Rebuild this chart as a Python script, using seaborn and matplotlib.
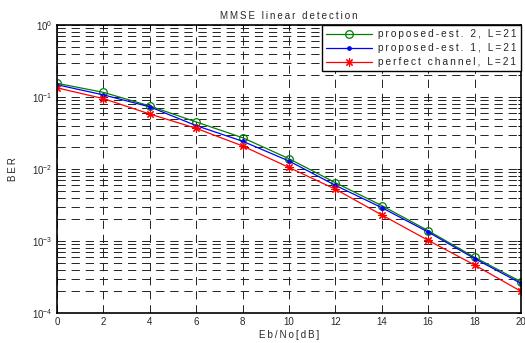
import numpy as np
import pandas as pd
import matplotlib
matplotlib.use("Agg")
import matplotlib.pyplot as plt
import seaborn as sns
from matplotlib.ticker import LogLocator, NullFormatter

ebno = [0, 2, 4, 6, 8, 10, 12, 14, 16, 18, 20]
ber_est2 = [0.155, 0.116, 0.075, 0.045, 0.0272, 0.0139, 0.00645, 0.0031, 0.00139, 0.000593, 0.000272]
ber_est1 = [0.148, 0.107, 0.073, 0.040, 0.0243, 0.0129, 0.00593, 0.0029, 0.00133, 0.00057, 0.000258]
ber_perf = [0.134, 0.095, 0.058, 0.0367, 0.0209, 0.0105, 0.00524, 0.0023, 0.00102, 0.000464, 0.000200]
labels = ["proposed-est. 2, L=21", "proposed-est. 1, L=21", "perfect channel, L=21"]
title = "MMSE linear detection"
xlabel = "Eb/No[dB]"
ylabel = "BER"

sns.set_theme(style="white")
plt.rcParams['font.family'] = ['Liberation Sans', 'DejaVu Sans']


def spaced(s):
    return "\u2009".join(s)


df = pd.DataFrame({
    "Eb/No": ebno * 3,
    "BER": ber_est2 + ber_est1 + ber_perf,
    "series": [labels[0]] * 11 + [labels[1]] * 11 + [labels[2]] * 11,
})

fig = plt.figure(figsize=(5.25, 3.43), dpi=100)
ax = fig.add_axes([0.1086, 0.0875, 0.8838, 0.8396])

colors = ["#008000", "#0000ff", "#ff0000"]
markers = ["o", ".", (8, 2, 0)]
msizes = [5.5, 5, 6]
mews = [0.9, 0.9, 0.8]
for lab, c, m, ms, mew in zip(labels, colors, markers, msizes, mews):
    sub = df[df["series"] == lab]
    sns.lineplot(data=sub, x="Eb/No", y="BER", ax=ax, color=c, marker=m,
                 markersize=ms, markerfacecolor="none" if m == "o" else c,
                 markeredgecolor=c, markeredgewidth=mew, linewidth=0.9,
                 label=spaced(lab))

ax.set_yscale("log")
ax.set_xlim(0, 20)
ax.set_ylim(1e-4, 1)
ax.set_xticks(ebno)
ax.yaxis.set_major_locator(LogLocator(base=10, numticks=10))
ax.yaxis.set_minor_locator(LogLocator(base=10, subs=np.arange(2, 10), numticks=10))
ax.yaxis.set_minor_formatter(NullFormatter())

gridstyle = dict(color="#222222", linestyle=(0, (8.5, 6)), linewidth=0.7)
ax.grid(True, which="major", axis="both", **gridstyle)
ax.grid(True, which="minor", axis="y", **gridstyle)
ax.set_axisbelow(True)

ax.tick_params(axis="both", which="both", direction="in", labelsize=7, pad=3,
               top=True, right=True, length=3, width=0.7, color="black")
ax.tick_params(axis="y", which="minor", length=2)
for s in ax.spines.values():
    s.set_color("black")
    s.set_linewidth(1.2)

ax.set_xlabel(spaced(xlabel), fontsize=7, labelpad=2)
ax.set_ylabel(spaced(ylabel), fontsize=7, labelpad=10)
ax.set_title(spaced(title), fontsize=7, pad=4)

leg = ax.legend(loc="upper right", fontsize=7.3, frameon=True, fancybox=False,
                edgecolor="black", framealpha=1, borderaxespad=0,
                handlelength=4.6, borderpad=0.4, labelspacing=0.4, handletextpad=0.6)
leg.get_frame().set_linewidth(1.0)

fig.savefig("out.png", dpi=100)
